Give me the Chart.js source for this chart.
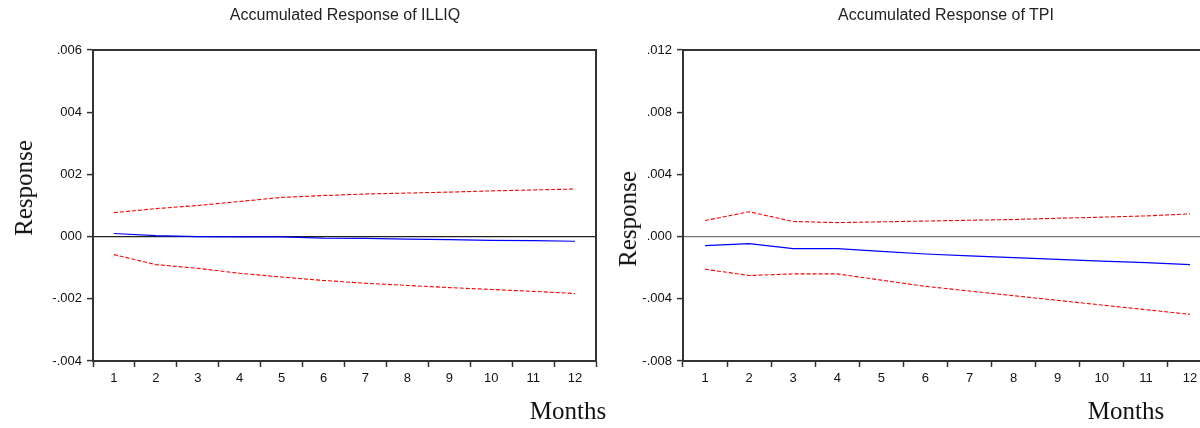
<!DOCTYPE html>
<html lang="en">
<head>
    <meta charset="UTF-8">
    <title>Accumulated Response</title>
    <script src="https://cdn.jsdelivr.net/npm/chart.js"></script>
    <style>
        html, body { margin: 0; padding: 0; background: #fff; }
        #wrap { position: relative; width: 1200px; height: 428px; overflow: hidden; background: #fff; }
        .box { position: absolute; top: 0; height: 428px; }
        .title { position: absolute; top: 6px; font: 16px "Liberation Sans", Arial, sans-serif; color: #222; transform: translateX(-50%); white-space: nowrap; }
        .serif { position: absolute; font: 25px "Liberation Serif", "Times New Roman", serif; color: #111; white-space: nowrap; }
        .ylab { transform: translate(-50%, -50%) rotate(-90deg); }
        .xlab { transform: translateX(-50%); }
    </style>
</head>
<body>
<div id="wrap">
    <div class="box" style="left:0;width:600px"><canvas id="illiqChart"></canvas></div>
    <div class="box" style="left:600px;width:612px"><canvas id="tpiChart"></canvas></div>

    <div class="title" style="left:345px">Accumulated Response of ILLIQ</div>
    <div class="title" style="left:946px">Accumulated Response of TPI</div>
    <div class="serif ylab" style="left:24px;top:188px">Response</div>
    <div class="serif ylab" style="left:628px;top:219px">Response</div>
    <div class="serif xlab" style="left:568px;top:397px">Months</div>
    <div class="serif xlab" style="left:1126px;top:397px">Months</div>
</div>

<script>
    // months ahead
    const months = ['1', '2', '3', '4', '5', '6', '7', '8', '9', '10', '11', '12'];

    // ILLIQ panel
    const illiqResp  = [0.0001, 0.00003, 0.0, -0.00001, -0.00001, -0.00005, -0.00006, -0.00008, -0.0001, -0.00012, -0.00013, -0.00015];
    const illiqUpper = [0.00077, 0.0009, 0.001, 0.00113, 0.00126, 0.00132, 0.00137, 0.0014, 0.00143, 0.00147, 0.0015, 0.00153];
    const illiqLower = [-0.00058, -0.0009, -0.00102, -0.00118, -0.0013, -0.00141, -0.0015, -0.00157, -0.00164, -0.0017, -0.00176, -0.00183];
    const illiqTicks = ['-.004', '-.002', '000', '002', '004', '.006'];

    // TPI panel
    const tpiResp  = [-0.00058, -0.00045, -0.00077, -0.00077, -0.00095, -0.00112, -0.00124, -0.00135, -0.00147, -0.00158, -0.00168, -0.0018];
    const tpiUpper = [0.00103, 0.0016, 0.00097, 0.0009, 0.00095, 0.001, 0.00105, 0.0011, 0.00118, 0.00125, 0.00133, 0.00146];
    const tpiLower = [-0.0021, -0.0025, -0.0024, -0.0024, -0.0028, -0.0032, -0.0035, -0.0038, -0.0041, -0.0044, -0.0047, -0.005];
    const tpiTicks = ['-.008', '-.004', '.000', '.004', '.008', '.012'];

    const axisColor = '#333';

    // top + right frame of the plot box
    const frame = {
        id: 'frame',
        afterDraw(chart) {
            const a = chart.chartArea, c = chart.ctx;
            c.save();
            c.strokeStyle = axisColor;
            c.lineWidth = 2;
            c.beginPath();
            c.moveTo(a.left, a.top);
            c.lineTo(a.right, a.top);
            c.lineTo(a.right, a.bottom);
            c.stroke();
            c.restore();
        }
    };

    function makeChart(id, resp, upper, lower, tickLabels, yMin, yMax, step, yWidth, padRight, zeroColor) {
        const ctx = document.getElementById(id).getContext('2d');
        return new Chart(ctx, {
            type: 'line',
            data: {
                labels: months,
                datasets: [
                    { data: upper, borderColor: '#ff0000', borderWidth: 1.1, borderDash: [4, 2], pointRadius: 0, tension: 0 },
                    { data: resp, borderColor: '#0000ff', borderWidth: 1.2, pointRadius: 0, tension: 0 },
                    { data: lower, borderColor: '#ff0000', borderWidth: 1.1, borderDash: [4, 2], pointRadius: 0, tension: 0 }
                ]
            },
            options: {
                responsive: true,
                maintainAspectRatio: false,
                animation: false,
                layout: { padding: { top: 50, left: 0, right: padRight, bottom: 0 } },
                plugins: { legend: { display: false }, tooltip: { enabled: false } },
                scales: {
                    x: {
                        type: 'category',
                        offset: true,
                        afterFit: (s) => { s.height = 67; },
                        border: { display: true, color: axisColor, width: 2 },
                        grid: { offset: true, drawOnChartArea: false, tickLength: 6, tickColor: axisColor, tickWidth: 1.5 },
                        ticks: { padding: 4, color: '#111', maxRotation: 0, autoSkip: false,
                                 font: { family: 'Liberation Sans', size: 13 } }
                    },
                    y: {
                        min: yMin,
                        max: yMax,
                        afterFit: (s) => { s.width = yWidth; },
                        border: { display: true, color: axisColor, width: 2 },
                        grid: {
                            drawOnChartArea: true,
                            tickLength: 6,
                            tickColor: axisColor,
                            tickWidth: 1.5,
                            color: (c) => (c.tick && Math.abs(c.tick.value) < 1e-9) ? zeroColor : 'rgba(0,0,0,0)',
                            lineWidth: 1.2
                        },
                        ticks: {
                            stepSize: step,
                            padding: 5,
                            color: '#111',
                            font: { family: 'Liberation Sans', size: 13 },
                            callback: (v, i) => tickLabels[i]
                        }
                    }
                }
            },
            plugins: [frame]
        });
    }

    makeChart('illiqChart', illiqResp, illiqUpper, illiqLower, illiqTicks, -0.004, 0.006, 0.002, 93, 4, '#222');
    makeChart('tpiChart', tpiResp, tpiUpper, tpiLower, tpiTicks, -0.008, 0.012, 0.004, 83, 0, '#777');
</script>
</body>
</html>
